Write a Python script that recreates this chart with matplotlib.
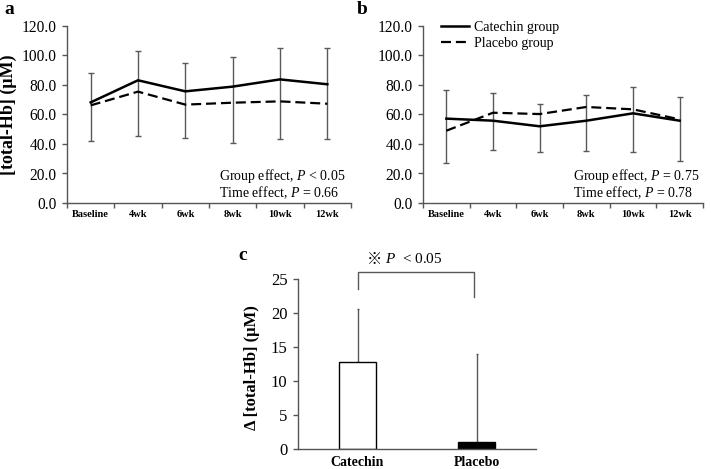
import numpy as np
import matplotlib
matplotlib.use('Agg')
import matplotlib.pyplot as plt
from matplotlib.ticker import FixedLocator, FormatStrFormatter

plt.rcParams['font.family'] = ['Liberation Serif', 'Noto Sans CJK JP', 'DejaVu Sans']
plt.rcParams['mathtext.fontset'] = 'custom'
plt.rcParams['mathtext.rm'] = 'Liberation Serif'
plt.rcParams['mathtext.it'] = 'Liberation Serif:italic'

weeks = ['Baseline', '4wk', '6wk', '8wk', '10wk', '12wk']

# panel a: catechin (upper SD shown) / placebo (lower SD shown)
cat_a = [68.2, 83.2, 75.7, 78.9, 83.8, 80.5]
cat_sd_a = [20.2, 20.1, 19.4, 20.1, 21.3, 24.4]
plc_a = [66.2, 75.5, 66.7, 68.0, 68.9, 67.3]
plc_sd_a = [23.9, 29.9, 22.6, 27.5, 25.7, 23.7]

# panel b
cat_b = [57.2, 55.8, 52.0, 55.8, 60.8, 55.8]
cat_sd_b = [19.6, 19.0, 14.9, 17.2, 17.6, 16.3]
plc_b = [49.0, 61.2, 60.3, 65.1, 63.5, 56.7]
plc_sd_b = [21.7, 25.0, 25.5, 29.6, 29.1, 28.0]

# panel c: change in total-Hb
groups = ['Catechin', 'Placebo']
delta = [12.8, 1.1]
delta_sd = [7.8, 12.8]

AX_COL = '#555555'
ERR_COL = '#595959'

fig = plt.figure(figsize=(7.11, 4.69), dpi=100)


def line_panel(ax, cat, cat_sd, plc, plc_sd, stats):
    x = np.arange(len(weeks))
    cat = np.array(cat); plc = np.array(plc)
    top = cat + np.array(cat_sd)
    bot = plc - np.array(plc_sd)
    ax.vlines(x, bot, top, color=ERR_COL, lw=1.0, zorder=1)
    ax.plot(x, top, ls='none', marker='_', ms=5, mew=1.0, color=ERR_COL)
    ax.plot(x, bot, ls='none', marker='_', ms=5, mew=1.0, color=ERR_COL)
    l1, = ax.plot(x, cat, color='black', lw=1.8, zorder=3, label='Catechin group')
    l2, = ax.plot(x, plc, color='black', lw=1.6, ls=(0, (4.5, 2.2)), zorder=3, label='Placebo group')
    ax.set_xlim(-0.5, 5.5)
    ax.set_ylim(0, 120)
    ax.set_yticks(np.arange(0, 121, 20))
    ax.yaxis.set_major_formatter(FormatStrFormatter('%.1f'))
    ax.set_xticks(x)
    ax.set_xticklabels(weeks, fontsize=7.5, fontweight='bold')
    ax.xaxis.set_minor_locator(FixedLocator(np.arange(-0.5, 6, 1)))
    ax.tick_params(axis='x', which='major', length=0, pad=5)
    ax.tick_params(axis='x', which='minor', length=3.5, width=1, color=AX_COL, direction='out')
    ax.tick_params(axis='y', length=3.5, width=1, color=AX_COL, direction='out', labelsize=11.2, pad=4)
    for s in ['top', 'right']:
        ax.spines[s].set_visible(False)
    for s in ['left', 'bottom']:
        ax.spines[s].set_color(AX_COL)
        ax.spines[s].set_linewidth(1.0)
    ax.text(0.535, 0.154, stats[0], transform=ax.transAxes, fontsize=10, va='center')
    ax.text(0.535, 0.06, stats[1], transform=ax.transAxes, fontsize=10, va='center')
    return l1, l2


ax_a = fig.add_axes([67 / 711, 1 - 203 / 469, 284 / 711, 177 / 469])
line_panel(ax_a, cat_a, cat_sd_a, plc_a, plc_sd_a,
           ['Group effect, $P$ < 0.05', 'Time effect, $P$ = 0.66'])
ax_a.set_ylabel('[total-Hb] (μM)', fontsize=13, fontweight='bold')
ax_a.yaxis.set_label_coords(-0.176, 0.5)

ax_b = fig.add_axes([423 / 711, 1 - 203 / 469, 280 / 711, 177 / 469])
line_panel(ax_b, cat_b, cat_sd_b, plc_b, plc_sd_b,
           ['Group effect, $P$ = 0.75', 'Time effect, $P$ = 0.78'])
ax_b.legend(loc='upper left', bbox_to_anchor=(0.02, 1.10), frameon=False, fontsize=10,
            handlelength=2.0, handletextpad=0.4, labelspacing=0.25)

# panel c
ax_c = fig.add_axes([298 / 711, 20 / 469, 238 / 711, 170 / 469])
xc = np.arange(len(groups))
ax_c.bar(xc, delta, width=0.315, color=['white', 'black'], edgecolor='black', lw=1.0, zorder=2)
ax_c.errorbar(xc, delta, yerr=[[0, 0], delta_sd], fmt='none', ecolor=ERR_COL, elinewidth=1.0,
              capsize=1, zorder=1)
ax_c.set_xlim(-0.5, 1.5)
ax_c.set_ylim(0, 25)
ax_c.set_yticks(np.arange(0, 26, 5))
ax_c.set_xticks(xc)
ax_c.set_xticklabels(groups, fontsize=10, fontweight='bold')
ax_c.tick_params(axis='x', length=0, pad=5)
ax_c.tick_params(axis='y', length=3.5, width=1, color=AX_COL, direction='out', labelsize=12, pad=4)
for s in ['top', 'right']:
    ax_c.spines[s].set_visible(False)
for s in ['left', 'bottom']:
    ax_c.spines[s].set_color(AX_COL)
    ax_c.spines[s].set_linewidth(1.0)
ax_c.set_ylabel('Δ [total-Hb] (μM)', fontsize=12, fontweight='bold')
ax_c.yaxis.set_label_coords(-0.16, 0.48)

# significance bracket
ax_c.plot([0.0, 0.0, 0.98, 0.98], [23.5, 26.1, 26.1, 22.4], color=ERR_COL, lw=1.0, clip_on=False)
ax_c.text(0.205, 27.9, '※', ha='right', va='center', fontsize=11, family=['Noto Sans CJK JP'])
ax_c.text(0.235, 27.9, '$P$  < 0.05', ha='left', va='center', fontsize=11)

# panel letters
fig.text(4 / 711, 1 - 14 / 469, 'a', fontsize=14, fontweight='bold')
fig.text(357 / 711, 1 - 14 / 469, 'b', fontsize=14, fontweight='bold')
fig.text(238 / 711, 1 - 260 / 469, 'c', fontsize=14, fontweight='bold')

fig.savefig('out.png', dpi=100)
